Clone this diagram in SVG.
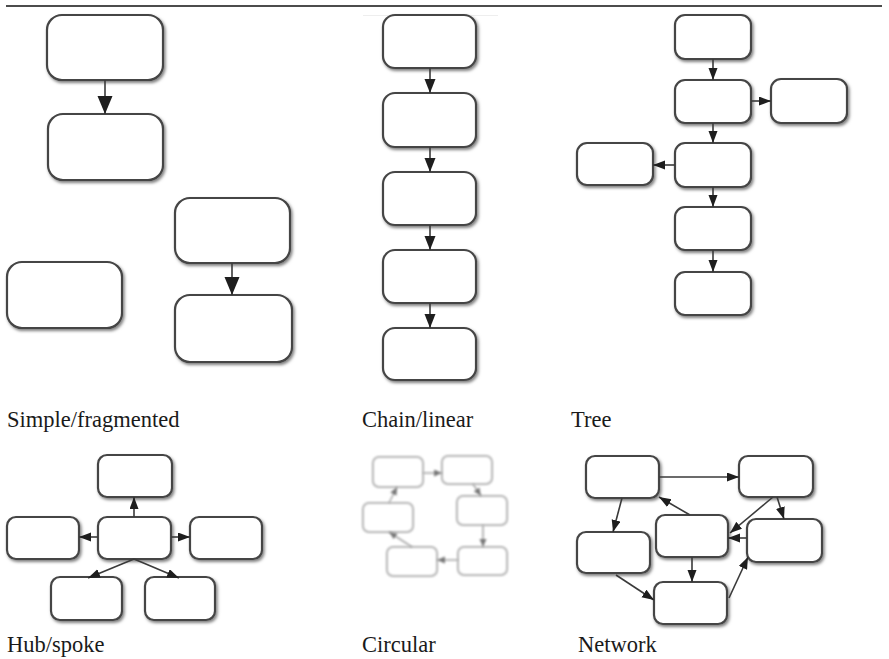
<svg xmlns="http://www.w3.org/2000/svg" width="889" height="659" viewBox="0 0 889 659">
  <style>
    .box { fill: #ffffff; stroke: #454545; stroke-width: 2.2; filter: url(#shadow); }
    .cbox { fill: #ffffff; stroke: #b0b0b0; stroke-width: 2; }
    .link { fill: none; stroke: #3a3a3a; stroke-width: 1.6; }
    .clink { fill: none; stroke: #a8a8a8; stroke-width: 1.6; }
    .label { font-family: "Liberation Serif", "Times New Roman", serif; font-size: 22.5px; fill: #1a1a1a; }
  </style>
  <defs>
    <filter id="shadow" x="-20%" y="-20%" width="150%" height="160%">
      <feDropShadow dx="1.5" dy="2" stdDeviation="1.4" flood-color="#000000" flood-opacity="0.5"/>
    </filter>
    <filter id="soft" x="-10%" y="-10%" width="120%" height="120%">
      <feGaussianBlur stdDeviation="0.9"/>
    </filter>
    <marker id="arrowL" markerUnits="userSpaceOnUse" markerWidth="18" markerHeight="16" refX="18" refY="7.5" orient="auto">
      <path d="M0,0 L18,7.5 L0,15 z" fill="#1e1e1e"/>
    </marker>
    <marker id="arrowM" markerUnits="userSpaceOnUse" markerWidth="15" markerHeight="12" refX="14" refY="5.5" orient="auto">
      <path d="M0,0 L14,5.5 L0,11 z" fill="#1e1e1e"/>
    </marker>
    <marker id="arrowS" markerUnits="userSpaceOnUse" markerWidth="13" markerHeight="10" refX="12" refY="4.5" orient="auto">
      <path d="M0,0 L12,4.5 L0,9 z" fill="#1e1e1e"/>
    </marker>
    <marker id="arrowC" markerUnits="userSpaceOnUse" markerWidth="9" markerHeight="8" refX="8" refY="3.5" orient="auto">
      <path d="M0,0 L8,3.5 L0,7 z" fill="#777777"/>
    </marker>
  </defs>

  <!-- header rule -->
  <line x1="6" y1="6" x2="882" y2="6" stroke="#111111" stroke-width="1.6"/>
  <line x1="363" y1="15.5" x2="498" y2="15.5" stroke="#eeeeee" stroke-width="1"/>

  <!-- Simple/fragmented -->
  <g id="simple">
    <g id="s1"><rect class="box" x="47" y="15" width="116" height="65" rx="15"/></g>
    <g id="s2"><rect class="box" x="48" y="114" width="115" height="66" rx="15"/></g>
    <g id="s3"><rect class="box" x="7" y="262" width="115" height="66" rx="15"/></g>
    <g id="s4"><rect class="box" x="175" y="198" width="115" height="65" rx="15"/></g>
    <g id="s5"><rect class="box" x="175" y="295" width="117" height="67" rx="15"/></g>
  </g>

  <!-- Chain/linear -->
  <g id="chain">
    <g id="c1"><rect class="box" x="383" y="15" width="93" height="53" rx="12"/></g>
    <g id="c2"><rect class="box" x="383" y="93" width="93" height="54" rx="12"/></g>
    <g id="c3"><rect class="box" x="383" y="172" width="93" height="53" rx="12"/></g>
    <g id="c4"><rect class="box" x="383" y="250" width="93" height="53" rx="12"/></g>
    <g id="c5"><rect class="box" x="383" y="328" width="93" height="52" rx="12"/></g>
  </g>

  <!-- Tree -->
  <g id="tree">
    <g id="t1"><rect class="box" x="675" y="15" width="76" height="44" rx="10"/></g>
    <g id="t2"><rect class="box" x="675" y="80" width="76" height="43" rx="10"/></g>
    <g id="t3"><rect class="box" x="771" y="79" width="76" height="44" rx="10"/></g>
    <g id="t4"><rect class="box" x="675" y="143" width="76" height="44" rx="10"/></g>
    <g id="t5"><rect class="box" x="577" y="143" width="76" height="42" rx="10"/></g>
    <g id="t6"><rect class="box" x="675" y="207" width="76" height="43" rx="10"/></g>
    <g id="t7"><rect class="box" x="675" y="272" width="76" height="43" rx="10"/></g>
  </g>

  <!-- Hub/spoke -->
  <g id="hub">
    <g id="h0"><rect class="box" x="98" y="517" width="73" height="42" rx="9"/></g>
    <g id="h1"><rect class="box" x="98" y="455" width="74" height="42" rx="9"/></g>
    <g id="h2"><rect class="box" x="7" y="517" width="72" height="42" rx="9"/></g>
    <g id="h3"><rect class="box" x="190" y="517" width="72" height="42" rx="9"/></g>
    <g id="h4"><rect class="box" x="51" y="577" width="71" height="43" rx="9"/></g>
    <g id="h5"><rect class="box" x="145" y="577" width="70" height="43" rx="9"/></g>
  </g>

  <!-- Circular (soft, light grey) -->
  <g id="circular" filter="url(#soft)">
    <g id="o1"><rect class="cbox" x="373" y="457" width="50" height="30" rx="6"/></g>
    <g id="o2"><rect class="cbox" x="442" y="456" width="50" height="28" rx="6"/></g>
    <g id="o3"><rect class="cbox" x="457" y="496" width="50" height="29" rx="6"/></g>
    <g id="o4"><rect class="cbox" x="458" y="547" width="49" height="28" rx="6"/></g>
    <g id="o5"><rect class="cbox" x="387" y="547" width="50" height="29" rx="6"/></g>
    <g id="o6"><rect class="cbox" x="363" y="503" width="50" height="29" rx="6"/></g>
  </g>

  <!-- Network -->
  <g id="network">
    <g id="n1"><rect class="box" x="586" y="456" width="73" height="42" rx="9"/></g>
    <g id="n2"><rect class="box" x="739" y="456" width="74" height="41" rx="9"/></g>
    <g id="n3"><rect class="box" x="656" y="515" width="72" height="42" rx="9"/></g>
    <g id="n4"><rect class="box" x="747" y="519" width="75" height="43" rx="9"/></g>
    <g id="n5"><rect class="box" x="577" y="532" width="73" height="41" rx="9"/></g>
    <g id="n6"><rect class="box" x="654" y="582" width="73" height="42" rx="9"/></g>
  </g>

  <!-- connectors -->
  <g id="connectors">
    <line class="link" x1="105" y1="80" x2="105" y2="114" marker-end="url(#arrowL)"/>
    <line class="link" x1="232" y1="263" x2="232" y2="295" marker-end="url(#arrowL)"/>

    <line class="link" x1="430" y1="68" x2="430" y2="93" marker-end="url(#arrowM)"/>
    <line class="link" x1="430" y1="147" x2="430" y2="172" marker-end="url(#arrowM)"/>
    <line class="link" x1="430" y1="225" x2="430" y2="250" marker-end="url(#arrowM)"/>
    <line class="link" x1="430" y1="303" x2="430" y2="328" marker-end="url(#arrowM)"/>

    <line class="link" x1="713" y1="59" x2="713" y2="80" marker-end="url(#arrowS)"/>
    <line class="link" x1="751" y1="101" x2="771" y2="101" marker-end="url(#arrowS)"/>
    <line class="link" x1="713" y1="123" x2="713" y2="143" marker-end="url(#arrowS)"/>
    <line class="link" x1="675" y1="165" x2="653" y2="165" marker-end="url(#arrowS)"/>
    <line class="link" x1="713" y1="187" x2="713" y2="207" marker-end="url(#arrowS)"/>
    <line class="link" x1="713" y1="250" x2="713" y2="272" marker-end="url(#arrowS)"/>

    <line class="link" x1="134" y1="517" x2="134" y2="497" marker-end="url(#arrowS)"/>
    <line class="link" x1="98" y1="537" x2="79" y2="537" marker-end="url(#arrowS)"/>
    <line class="link" x1="171" y1="537" x2="190" y2="537" marker-end="url(#arrowS)"/>
    <line class="link" x1="134" y1="559" x2="88" y2="578" marker-end="url(#arrowS)"/>
    <line class="link" x1="134" y1="559" x2="179" y2="578" marker-end="url(#arrowS)"/>

    <g filter="url(#soft)">
      <line class="clink" x1="423" y1="473" x2="442" y2="473" marker-end="url(#arrowC)"/>
      <line class="clink" x1="473" y1="484" x2="481" y2="496" marker-end="url(#arrowC)"/>
      <line class="clink" x1="483" y1="525" x2="483" y2="547" marker-end="url(#arrowC)"/>
      <line class="clink" x1="458" y1="560" x2="437" y2="560" marker-end="url(#arrowC)"/>
      <line class="clink" x1="412" y1="547" x2="389" y2="532" marker-end="url(#arrowC)"/>
      <line class="clink" x1="389" y1="503" x2="397" y2="487" marker-end="url(#arrowC)"/>
    </g>

    <line class="link" x1="659" y1="477" x2="739" y2="477" marker-end="url(#arrowS)"/>
    <line class="link" x1="622" y1="498" x2="613" y2="532" marker-end="url(#arrowS)"/>
    <line class="link" x1="690" y1="515" x2="659" y2="497" marker-end="url(#arrowS)"/>
    <line class="link" x1="773" y1="497" x2="730" y2="533" marker-end="url(#arrowS)"/>
    <line class="link" x1="777" y1="497" x2="784" y2="519" marker-end="url(#arrowS)"/>
    <line class="link" x1="747" y1="538" x2="728" y2="538" marker-end="url(#arrowS)"/>
    <line class="link" x1="692" y1="557" x2="692" y2="582" marker-end="url(#arrowS)"/>
    <line class="link" x1="616" y1="575" x2="654" y2="600" marker-end="url(#arrowS)"/>
    <line class="link" x1="729" y1="598" x2="748" y2="557" marker-end="url(#arrowS)"/>
  </g>

  <!-- captions -->
  <g id="captions">
    <text class="label" x="7" y="427">Simple/fragmented</text>
    <text class="label" x="362" y="427">Chain/linear</text>
    <text class="label" x="571" y="427">Tree</text>
    <text class="label" x="7" y="652">Hub/spoke</text>
    <text class="label" x="362" y="652">Circular</text>
    <text class="label" x="578" y="652">Network</text>
  </g>
</svg>
